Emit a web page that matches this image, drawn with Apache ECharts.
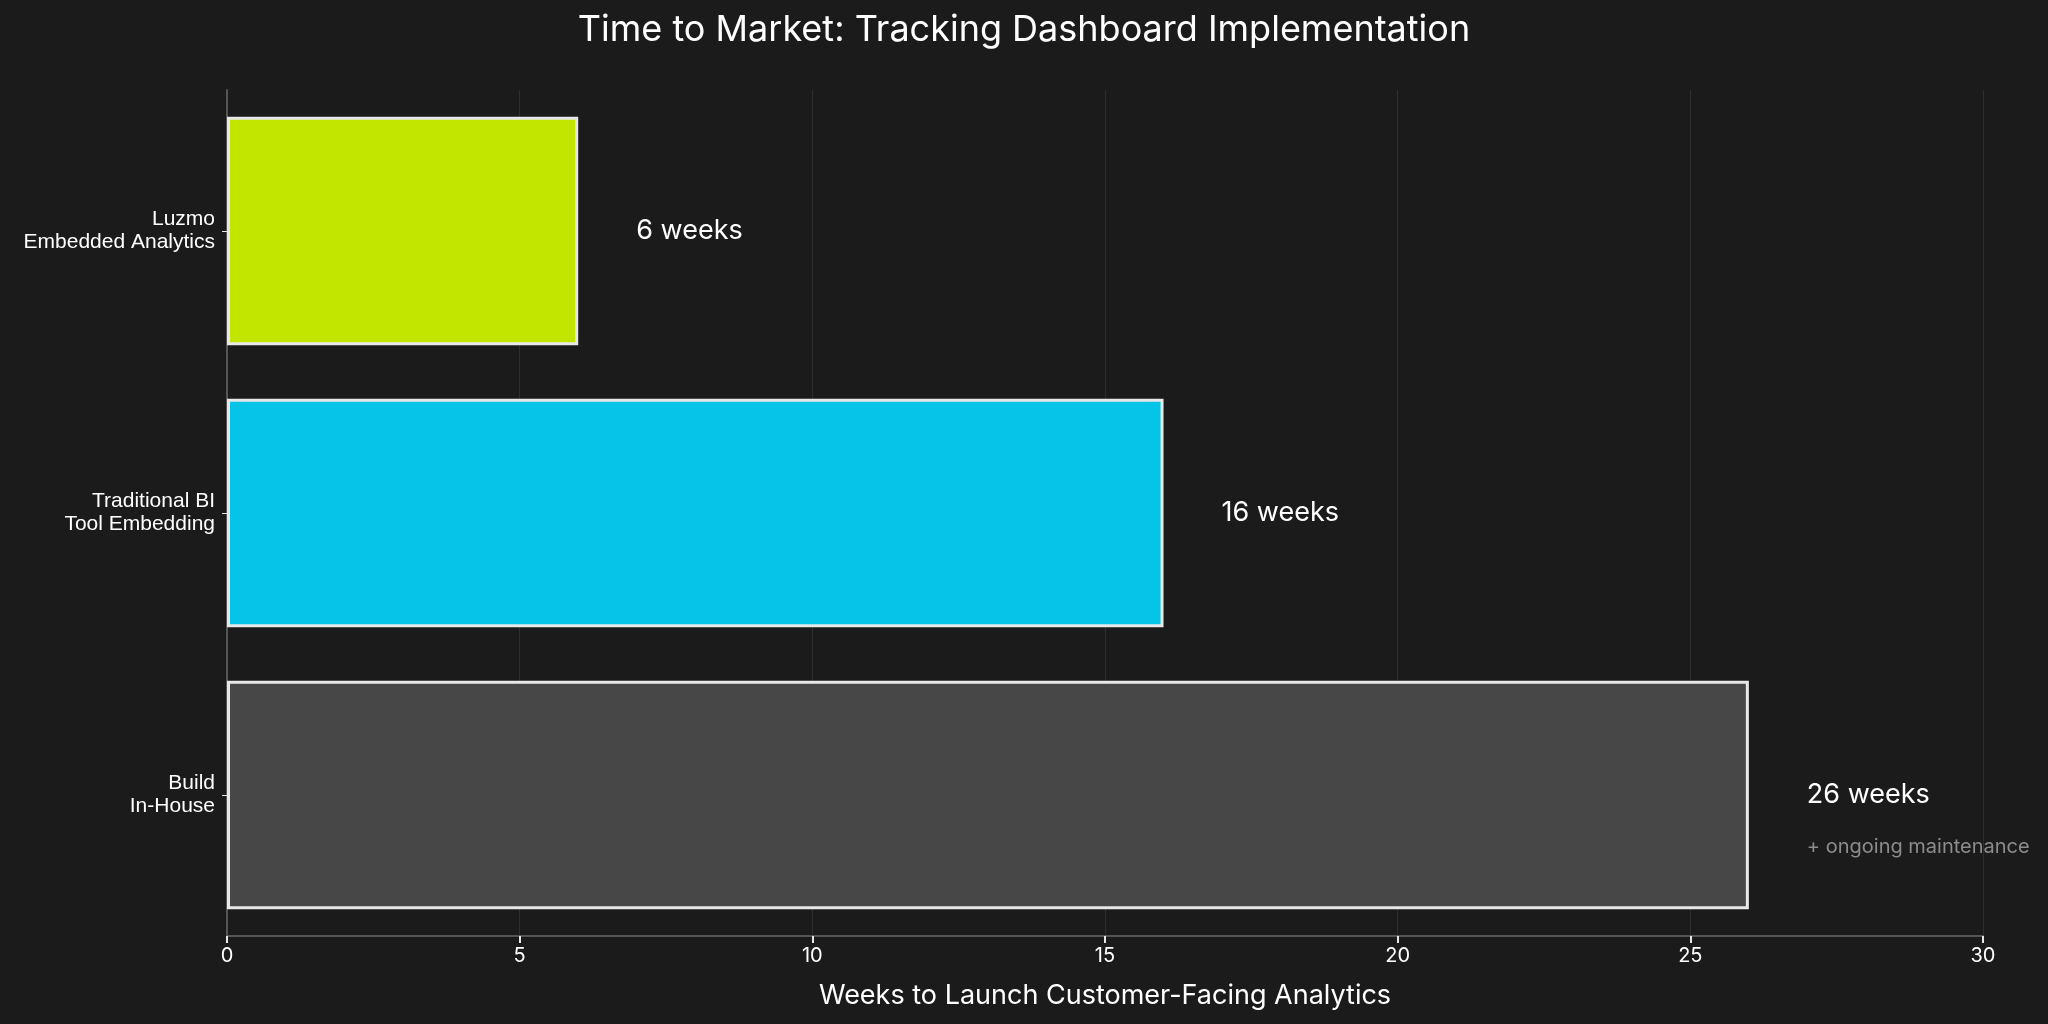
<html>
<head>
  <meta charset="utf-8">
  <title>Time to Market</title>
  <script src="https://cdn.jsdelivr.net/npm/echarts@6/dist/echarts.min.js"></script>
  <style>
    html, body { margin: 0; padding: 0; background: #1b1b1b; }
  </style>
</head>
<body>
  <div id="main" style="width: 2048px;height:1024px;"></div>
  <script type="text/javascript">
    var categories = ['Luzmo\nEmbedded Analytics', 'Traditional BI\nTool Embedding', 'Build\nIn-House'];
    var weeks = [6, 16, 26];
    var barColors = ['#c2e600', '#05c4e8', '#474747'];
    var notes = ['', '', '+ ongoing maintenance'];
    var xTicks = [0, 5, 10, 15, 20, 25, 30];

    var font = 'Inter, "Noto Sans", sans-serif';
    var myChart = echarts.init(document.getElementById('main'));

    var barData = weeks.map(function (v, i) {
      var lbl = notes[i]
        ? { formatter: '{e| }\n{a|' + v + ' weeks}\n{b|' + notes[i] + '}' }
        : { formatter: '{a|' + v + ' weeks}' };
      return { value: v, itemStyle: { color: barColors[i] }, label: lbl };
    });

    myChart.setOption({
      backgroundColor: '#1b1b1b',
      animation: false,
      title: {
        text: 'Time to Market: Tracking Dashboard Implementation',
        left: 'center',
        top: 7,
        textStyle: { color: '#ffffff', fontSize: 36, fontWeight: 'normal', fontFamily: font }
      },
      grid: { left: 227, right: 65, top: 90, bottom: 88 },
      xAxis: {
        type: 'value',
        min: xTicks[0],
        max: xTicks[xTicks.length - 1],
        interval: 5,
        name: 'Weeks to Launch Customer-Facing Analytics',
        nameLocation: 'middle',
        nameGap: 46,
        nameTextStyle: { color: '#ffffff', fontSize: 27, fontFamily: font },
        axisLine: { show: true, lineStyle: { color: '#555555', width: 2 } },
        axisTick: { show: true, length: 7, lineStyle: { color: '#e8e8e8', width: 2 } },
        axisLabel: { color: '#ffffff', fontSize: 20, margin: 10, fontFamily: font },
        splitLine: { show: true, lineStyle: { color: '#2e2e2e', width: 1 } }
      },
      yAxis: {
        type: 'category',
        inverse: true,
        data: categories,
        axisLine: { show: true, lineStyle: { color: '#555555', width: 2 } },
        axisTick: { show: true, alignWithLabel: true, length: 5, lineStyle: { color: '#e8e8e8', width: 1 } },
        axisLabel: {
          color: '#ffffff', fontSize: 21, lineHeight: 23, margin: 12,
          fontFamily: '"Liberation Sans", sans-serif'
        },
        splitLine: { show: false }
      },
      series: [{
        type: 'bar',
        data: barData,
        barCategoryGap: '19%',
        itemStyle: { borderColor: '#e8e8e8', borderWidth: 3 },
        label: {
          show: true,
          position: 'right',
          distance: 58,
          color: '#ffffff',
          fontFamily: font,
          rich: {
            a: { color: '#ffffff', fontSize: 27, lineHeight: 52, fontFamily: font },
            b: { color: '#8c8c8c', fontSize: 20, lineHeight: 52, fontFamily: font },
            e: { fontSize: 20, lineHeight: 52 }
          }
        }
      }]
    });
  </script>
</body>
</html>
